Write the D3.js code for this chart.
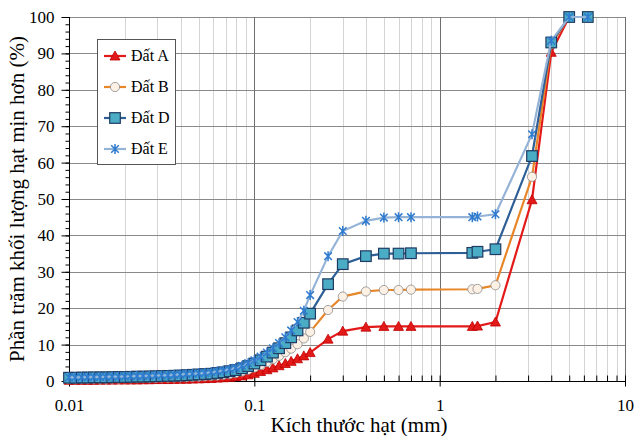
<!DOCTYPE html>
<html>
<head>
<meta charset="utf-8">
<script src="https://cdn.jsdelivr.net/npm/d3@7"></script>
<style>
body { margin: 0; background: #fff; }
svg text { font-family: "Liberation Serif", "DejaVu Serif", serif; fill: #000; }
</style>
</head>
<body>
<svg id="chart" width="636" height="436"></svg>
<script>
// grain sizes (mm)
var sizes = [0.01, 0.0108, 0.0117, 0.0126, 0.0136, 0.0147, 0.0158, 0.0171, 0.0185, 0.02,
  0.0215, 0.0233, 0.0251, 0.0271, 0.0293, 0.0316, 0.0342, 0.0369, 0.0398, 0.043,
  0.0464, 0.0501, 0.0541, 0.0585, 0.0631, 0.0681, 0.0736, 0.0794, 0.0858, 0.0926,
  0.1, 0.108, 0.117, 0.126, 0.136, 0.147, 0.158, 0.171, 0.185, 0.2,
  0.25, 0.3, 0.4, 0.5, 0.6, 0.7, 1.5, 1.6, 2, 3.15, 4, 5, 6.3];

var datA = [0.2, 0.2, 0.2, 0.2, 0.2, 0.25, 0.25, 0.25, 0.3, 0.3,
  0.3, 0.3, 0.35, 0.35, 0.4, 0.4, 0.4, 0.45, 0.5, 0.5,
  0.55, 0.6, 0.65, 0.7, 0.8, 0.9, 1.0, 1.2, 1.4, 1.7,
  2.1, 2.6, 3.1, 3.6, 4.2, 4.8, 5.4, 6.1, 6.9, 7.8,
  11.5, 13.7, 14.8, 15.0, 15.0, 15.0, 15.0, 15.1, 16.2, 49.8, 90.3, 100, 100];
var datB = [0.5, 0.5, 0.55, 0.55, 0.6, 0.6, 0.6, 0.65, 0.65, 0.7,
  0.7, 0.75, 0.8, 0.8, 0.85, 0.9, 0.9, 0.95, 1.0, 1.05,
  1.1, 1.2, 1.3, 1.4, 1.5, 1.7, 1.9, 2.2, 2.6, 3.1,
  3.7, 4.4, 5.2, 6.0, 6.9, 7.9, 8.9, 10.1, 11.7, 13.5,
  19.5, 23.2, 24.6, 25.0, 25.0, 25.1, 25.2, 25.3, 26.3, 56.1, 92.5, 100, 100];
var datD = [0.9, 0.9, 0.95, 0.95, 1.0, 1.0, 1.0, 1.05, 1.1, 1.1,
  1.15, 1.2, 1.2, 1.25, 1.3, 1.35, 1.4, 1.45, 1.5, 1.6,
  1.7, 1.8, 1.9, 2.0, 2.2, 2.4, 2.7, 3.0, 3.5, 4.1,
  4.8, 5.7, 6.7, 7.8, 9.0, 10.4, 12.0, 13.9, 16.0, 18.5,
  26.6, 32.1, 34.3, 35.0, 35.0, 35.1, 35.2, 35.5, 36.2, 61.8, 93.0, 100, 100];
var datE = [1.0, 1.0, 1.05, 1.05, 1.1, 1.1, 1.15, 1.2, 1.2, 1.25,
  1.3, 1.35, 1.4, 1.45, 1.5, 1.55, 1.6, 1.7, 1.8, 1.9,
  2.0, 2.1, 2.2, 2.4, 2.6, 2.9, 3.2, 3.6, 4.2, 4.9,
  5.7, 6.7, 7.8, 9.0, 10.4, 12.0, 13.9, 16.2, 19.3, 23.6,
  34.3, 41.2, 44.0, 44.9, 45.0, 45.0, 45.0, 45.2, 45.8, 67.8, 93.5, 100, 100];

var seriesNames = ["Đất A", "Đất B", "Đất D", "Đất E"];
var xTicks = [0.01, 0.1, 1, 10];
var yTicks = [0, 10, 20, 30, 40, 50, 60, 70, 80, 90, 100];

var svg = d3.select("#chart");
var pL = 69, pR = 625, pT = 17, pB = 381;

var x = d3.scaleLog().domain([0.01, 10]).range([pL, pR]);
var y = d3.scaleLinear().domain([0, 100]).range([pB, pT]);

// minor vertical grid
var minors = [];
[0.01, 0.1, 1].forEach(function(d){
  for (var k = 2; k <= 9; k++) minors.push(d * k);
});
svg.append("g").selectAll("line").data(minors).enter().append("line")
  .attr("x1", function(d){ return Math.round(x(d)) + 0.5; })
  .attr("x2", function(d){ return Math.round(x(d)) + 0.5; })
  .attr("y1", pT).attr("y2", pB)
  .attr("stroke", "#d4d4d4").attr("stroke-width", 1);

// horizontal grid
svg.append("g").selectAll("line").data(yTicks.slice(1)).enter().append("line")
  .attr("x1", pL).attr("x2", pR)
  .attr("y1", function(d){ return Math.round(y(d)) + 0.5; })
  .attr("y2", function(d){ return Math.round(y(d)) + 0.5; })
  .attr("stroke", "#8a8a8a").attr("stroke-width", 1);

// major vertical grid
svg.append("g").selectAll("line").data(xTicks.slice(1)).enter().append("line")
  .attr("x1", function(d){ return Math.round(x(d)) + 0.5; })
  .attr("x2", function(d){ return Math.round(x(d)) + 0.5; })
  .attr("y1", pT).attr("y2", pB)
  .attr("stroke", "#6e6e6e").attr("stroke-width", 1);

// y axis
var yMinor = d3.range(0, 101, 2);
var gy = svg.append("g").attr("transform", "translate(" + (pL + 0.5) + ",0)");
gy.call(d3.axisLeft(y).tickValues(yMinor).tickSize(4).tickFormat(""));
gy.call(function(g){ g.select(".domain").remove(); });
var gy2 = svg.append("g").attr("transform", "translate(" + (pL + 0.5) + ",0)");
gy2.call(d3.axisLeft(y).tickValues(yTicks).tickSize(8).tickPadding(7).tickFormat(d3.format("d")));
gy2.selectAll("text").style("font-size", "17px");
gy2.select(".domain").attr("d", "M0," + pT + "V" + pB);

// x axis
var gx = svg.append("g").attr("transform", "translate(0," + (pB + 0.5) + ")");
gx.call(d3.axisTop(x).tickValues(minors).tickSize(6).tickFormat(""));
gx.select(".domain").remove();
var gx2 = svg.append("g").attr("transform", "translate(0," + (pB + 0.5) + ")");
gx2.call(d3.axisBottom(x).tickValues(xTicks).tickSize(5).tickPadding(12)
  .tickFormat(function(d){ return String(d); }));
gx2.selectAll("text").style("font-size", "17px");
gx2.select(".domain").attr("d", "M" + pL + ",0H" + pR);
gx2.selectAll(".tick line").attr("y1", -6);

// series
var styles = [
  { data: datA, line: "#e31a1a", fill: "#e31a1a", stroke: "#c00000", shape: "tri" },
  { data: datB, line: "#e8862a", fill: "#fdf0e4", stroke: "#8c8c8c", shape: "circle" },
  { data: datD, line: "#2e5f96", fill: "#4bacc6", stroke: "#1f3b63", shape: "square" },
  { data: datE, line: "#95b3d7", fill: "none", stroke: "#2e7bcf", shape: "star" }
];

var lineGen = d3.line()
  .x(function(d){ return x(d[0]); })
  .y(function(d){ return y(d[1]); });

function marker(g, shape, st) {
  if (shape === "tri") {
    g.append("path").attr("d", "M0,-5L5,4L-5,4Z")
      .attr("fill", st.fill).attr("stroke", st.stroke).attr("stroke-width", 0.8);
  } else if (shape === "circle") {
    g.append("circle").attr("r", 4.6)
      .attr("fill", st.fill).attr("stroke", st.stroke).attr("stroke-width", 0.8);
  } else if (shape === "square") {
    g.append("rect").attr("x", -5.3).attr("y", -5.3).attr("width", 10.6).attr("height", 10.6)
      .attr("fill", st.fill).attr("stroke", st.stroke).attr("stroke-width", 1.2);
  } else {
    g.append("path").attr("d", "M-3.8,-3.8L3.8,3.8M-3.8,3.8L3.8,-3.8M0,-5V5")
      .attr("fill", "none").attr("stroke", st.stroke).attr("stroke-width", 1.5);
  }
}

styles.forEach(function(st){
  var pts = sizes.map(function(s, i){ return [s, st.data[i]]; });
  svg.append("path").datum(pts)
    .attr("d", lineGen)
    .attr("fill", "none").attr("stroke", st.line).attr("stroke-width", 2.2);
  pts.forEach(function(p){
    var g = svg.append("g").attr("transform", "translate(" + x(p[0]) + "," + y(p[1]) + ")");
    marker(g, st.shape, st);
  });
});

// legend
var lg = svg.append("g");
lg.append("rect").attr("x", 97.5).attr("y", 39.5).attr("width", 78).attr("height", 125)
  .attr("fill", "#fff").attr("stroke", "#555").attr("stroke-width", 1);
styles.forEach(function(st, i){
  var yy = 56 + i * 31;
  lg.append("line").attr("x1", 104).attr("x2", 126).attr("y1", yy).attr("y2", yy)
    .attr("stroke", st.line).attr("stroke-width", 2.2);
  var g = lg.append("g").attr("transform", "translate(115," + yy + ")");
  marker(g, st.shape, st);
  lg.append("text").attr("x", 131).attr("y", yy + 5)
    .style("font-size", "16px").text(seriesNames[i]);
});

// axis titles
svg.append("text").attr("x", (pL + pR) / 2 + 12).attr("y", 432)
  .attr("text-anchor", "middle").style("font-size", "21px")
  .text("Kích thước hạt (mm)");
svg.append("text")
  .attr("transform", "translate(24," + ((pT + pB) / 2) + ") rotate(-90)")
  .attr("text-anchor", "middle").style("font-size", "21px")
  .text("Phần trăm khối lượng hạt mịn hơn (%)");
</script>
</body>
</html>
